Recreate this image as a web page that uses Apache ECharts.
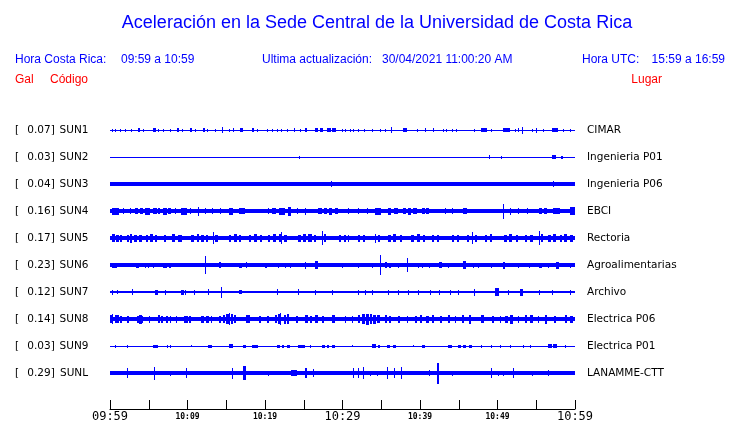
<!DOCTYPE html>
<html><head><meta charset="utf-8">
<script src="https://cdn.jsdelivr.net/npm/echarts@6/dist/echarts.min.js"></script>
<style>html,body{margin:0;padding:0;background:#fff}#c{width:740px;height:423px}</style>
</head><body><div id="c"></div>
<script>
// ---- data ----
const codes = ['SUN1','SUN2','SUN3','SUN4','SUN5','SUN6','SUN7','SUN8','SUN9','SUNL'];
const peaks = ['0.07','0.03','0.04','0.16','0.17','0.23','0.12','0.14','0.03','0.29'];
const places = ['CIMAR','Ingenieria P01','Ingenieria P06','EBCI','Rectoria','Agroalimentarias','Archivo','Electrica P06','Electrica P01','LANAMME-CTT'];
const tickLabels = ['09:59','','10:09','','10:19','','10:29','','10:39','','10:49','','10:59'];
const majorLabels = ['09:59','10:29','10:59'];
// background noise half-amplitude of each trace (relative units)
const baseAmp = [0.5, 0.5, 1.8, 2.0, 2.4, 1.7, 1.4, 2.4, 0.5, 1.8];
// events: [minute after 09:59, half-amplitude, duration in minutes]
const sun1 = [[0.2,1.5],[0.65,1.5],[1.3,1.5],[1.9,1.5],[2.7,1.5],[3.6,1.8,0.3],[4.2,1.5],[5.6,1.8,0.3],[6.2,1.5],[6.9,1.5],[7.7,1.5],[8.6,1.8,0.3],[9.3,1.5],[10.3,1.8,0.3],[11.0,1.5],[12.0,1.8,0.3],[12.5,1.5],[13.5,1.5],[14.4,3],[15.4,1.5],[15.9,1.8],[16.8,1.8,0.3],[18.3,1.8,0.3],[19.0,1.5],[20.2,1.5],[20.9,1.5],[21.6,1.5],[22.1,1.5],[22.8,1.5],[23.7,2],[24.5,1.5],[25.1,1.8,0.3],[26.4,1.8,0.5],[27.1,1.8,0.4],[28.0,1.8,0.5],[28.7,1.8,0.4],[29.9,1.5],[30.3,1.5],[31.0,1.5],[31.4,1.5],[32.0,1.5],[32.8,1.5],[33.8,1.5],[34.8,1.5],[35.5,1.5],[36.2,3],[37.8,1.8,0.5],[39.6,1.5],[40.6,1.8],[41.7,1.8],[43.0,1.5],[43.4,1.5],[44.1,1.5],[44.6,1.5],[47.0,1.5],[47.9,1.8,0.7],[49.2,1.5],[50.7,1.8,0.9],[52.2,1.5],[52.7,1.8],[53.2,3.5],[54.4,1.5],[55.0,2.5],[55.9,1.5],[57.0,1.8,0.8],[58.4,1.5],[59.3,1.5]];
const sun2 = [[24.4,1.5],[48.9,2],[50.4,1.5],[57.0,2,0.6],[58.2,1.5,0.3]];
const sun3 = [[13.8,2.2,1.2],[28.5,3],[29.5,2.2],[36.6,2.3],[57.2,3]];
const sun4 = [[0.2,3.5,0.9],[1.7,3],[2.6,3],[3.2,3,0.4],[3.9,3,0.3],[4.5,3.5,0.7],[5.6,3,0.4],[6.2,3,0.3],[6.9,3.5,0.4],[7.5,3,0.4],[8.4,3],[9.2,3.5,0.7],[10.3,3],[11.4,4.5],[12.3,3],[13.1,3],[14.2,3],[15.3,3.5,0.6],[16.6,3,0.8],[20.4,3],[20.9,3,0.5],[21.8,3.5,0.8],[23.0,4.5,0.4],[24.1,3],[25.2,3.5],[26.9,3,0.5],[27.6,3,0.4],[28.3,3.5,0.4],[29.0,3,0.4],[30.7,3],[32.0,3],[33.1,3],[34.2,3.5,0.8],[35.9,3.5,0.4],[36.6,3,0.5],[37.8,3,0.4],[38.4,3.5,0.4],[39.1,3,0.5],[40.2,3,0.4],[40.8,3,0.3],[43.2,3],[44.1,3],[45.6,3,0.4],[50.7,7.5],[51.6,3.5],[52.7,3],[53.8,3],[55.3,3,0.5],[56.0,3,0.4],[57.2,3,0.9],[59.3,4,0.7]];
const sun5 = [[0.2,4,0.4],[0.8,3.5,0.3],[1.3,3.5,0.2],[2.2,3.5,0.3],[2.6,4.5,0.3],[3.1,3.5,0.4],[3.8,3.5,0.3],[4.6,3.5,0.3],[5.1,4,0.4],[5.8,3.5,0.3],[7.0,3.5,0.2],[8.0,4,0.4],[8.8,3.5,0.5],[10.5,3.5,0.4],[11.2,4,0.3],[11.8,3.5,0.3],[12.4,3.5,0.3],[13.3,6.3],[13.6,3.5,0.3],[15.3,3.5,0.3],[16.0,4,0.4],[16.6,3.5,0.3],[17.9,3.5,0.3],[18.6,4,0.4],[19.4,3.5,0.2],[20.4,3.5,0.3],[21.0,4,0.4],[21.8,4,0.3],[22.1,6],[22.5,3.5,0.3],[24.3,3.5,0.3],[24.9,4,0.4],[25.6,4,0.4],[26.3,3.5,0.3],[27.3,7],[27.6,4,0.3],[29.5,3.5,0.3],[30.2,3.5,0.3],[30.7,3.5,0.2],[32.0,3.5,0.3],[32.6,3.5,0.3],[34.2,4.5],[34.6,3.5,0.3],[35.9,3.5,0.3],[36.5,4,0.4],[37.4,3.5,0.3],[38.9,3.5,0.3],[39.6,4,0.4],[40.4,3.5,0.2],[41.5,3.5,0.3],[42.2,3.5,0.2],[44.1,3.5,0.3],[44.8,3.5,0.2],[46.1,3.5,0.2],[46.7,6],[47.1,3.5,0.2],[48.4,3.5,0.3],[49.0,4,0.3],[50.9,3.5,0.3],[51.5,4,0.4],[52.4,3.5,0.3],[53.5,3.5,0.3],[54.2,3.5,0.4],[55.3,7],[55.6,4,0.3],[56.5,3.5,0.4],[57.2,4,0.4],[58.0,3.5,0.3],[58.6,4,0.4],[59.3,3.5,0.5]];
const sun6 = [[0.2,2.5,0.7],[3.4,2.5,0.3],[4.5,2.5],[4.9,2.5],[5.6,2.5],[6.9,2.5,0.4],[7.6,2.5,0.3],[12.2,8.7],[14.0,2.8,0.3],[16.6,2.5,0.4],[17.6,3],[20.0,2.5,0.3],[21.7,2.5],[22.6,2.5],[23.2,2.5],[25.2,3.5],[26.5,4,0.3],[29.9,2.5],[32.0,2.5],[33.8,2.5],[34.9,10],[35.5,3,0.3],[36.0,2.5,0.3],[37.2,2.5],[38.3,7],[39.8,2.5],[40.2,2.5],[41.1,2.5],[42.4,3,0.4],[43.6,2.5],[45.6,4,0.3],[46.9,2.5],[47.5,2.5],[49.2,2.5],[50.7,3.5,0.3],[52.7,2.5],[54.0,2.5],[55.3,2.5,0.4],[56.5,2.5],[57.6,3.5,0.3],[59.3,2.5]];
const sun7 = [[0.2,2.5],[0.9,2.2],[2.8,3],[5.8,2.5,0.4],[7.1,2.5],[9.2,2.5,0.3],[9.7,2.5],[10.8,2.5],[12.7,3],[14.3,5.5],[16.6,2.2,0.4],[21.5,3],[24.2,3],[26.4,2.5],[28.6,2.5],[32.0,2.5],[32.9,2.5],[33.8,2.5],[35.9,2.5],[37.2,2.5],[38.5,2.5],[39.8,2.5],[41.3,2.5],[42.4,2.5],[43.9,2.5],[44.9,2.5],[47.0,3.5],[49.7,4,0.5],[51.4,2.5],[52.9,3.5,0.4],[55.3,2.5],[57.0,2.5],[59.3,2.5]];
const sun8 = [[0.0,4,0.4],[0.2,5],[0.6,4,0.5],[1.3,3.5,0.2],[2.2,3.5,0.3],[3.5,3.5,0.2],[3.8,4.5,0.3],[4.1,3.5,0.2],[5.0,3.5,0.2],[6.2,4,0.2],[6.6,3.5,0.3],[7.2,3.5,0.3],[7.7,3.5,0.2],[8.5,3.5,0.2],[9.6,3.5,0.4],[10.2,3.5,0.3],[11.8,3.5,0.3],[12.4,3.5,0.4],[13.0,3.5,0.2],[14.0,3.5,0.3],[14.6,4,0.3],[15.0,5,0.3],[15.4,6],[15.6,5,0.3],[16.0,4,0.3],[17.6,4,0.4],[19.2,3.5,0.3],[20.3,3.5,0.2],[21.3,4,0.3],[21.7,5,0.4],[21.9,6],[22.4,4.5,0.3],[22.9,5,0.2],[24.0,3.5,0.3],[25.2,4,0.4],[25.8,3.5,0.3],[26.5,4,0.3],[27.4,3.5,0.2],[28.6,4,0.4],[30.3,3.5,0.2],[31.2,3.5,0.2],[32.0,4,0.3],[32.5,5,0.4],[33.0,5.5,0.4],[33.5,5,0.3],[33.9,4.5,0.4],[34.5,4,0.3],[35.5,4,0.3],[36.0,3.5,0.3],[37.2,3.5,0.2],[38.3,3.5,0.2],[39.3,3.5,0.3],[40.0,4,0.3],[40.8,3.5,0.3],[41.5,4,0.3],[42.6,3.5,0.2],[43.6,4,0.3],[44.5,3.5,0.2],[45.4,4,0.3],[46.3,4.5,0.3],[47.9,4,0.4],[49.3,3.5,0.2],[50.3,3.5,0.2],[51.0,3.5,0.3],[51.6,4.5,0.4],[52.6,3.5,0.2],[53.5,4,0.3],[54.2,4,0.4],[55.2,3.5,0.2],[56.1,4.5,0.3],[57.3,3.5,0.2],[58.7,4,0.3],[59.4,3.5,0.3]];
const sun9 = [[0.65,1.5],[2.2,1.5],[5.6,1.5,0.6],[7.3,1.5],[7.7,1.5],[10.5,1.2],[12.7,1.5,0.4],[15.3,1.8,0.6],[17.2,1.5,0.4],[18.3,1.5,0.8],[21.5,1.5,0.4],[22.2,1.5,0.3],[22.8,1.5,0.4],[24.3,1.5,0.9],[25.8,1.5],[27.3,1.5,0.4],[28.0,1.5,0.3],[28.6,1.5,0.4],[31.2,1.2],[33.8,1.8,0.5],[34.6,1.5,0.3],[35.7,1.5,0.4],[36.5,1.5,0.4],[39.1,1.2],[40.2,1.5,0.4],[43.6,1.5,0.5],[44.9,1.5,0.4],[45.6,1.5,0.3],[46.3,1.5,0.4],[47.9,1.5],[49.2,1.5],[50.3,1.5],[51.6,1.5],[53.3,1.5],[54.2,1.5],[56.5,1.8,0.5],[57.2,1.8,0.5],[58.7,1.5]];
const sunL = [[2.15,5],[5.7,6.5],[7.7,2.5],[9.8,5],[14.6,2.2],[15.7,5.5],[17.2,7,0.3],[20.4,2.5],[23.4,3,0.7],[25.2,5,0.2],[26.2,4],[30.3,2.2],[31.3,5],[32.0,5],[32.7,6],[33.5,2.5],[34.4,2.5],[35.7,6,0.2],[36.6,5],[37.6,6],[39.3,2.2],[41.1,3],[42.2,10.5,0.2],[44.1,2.5],[47.1,2.2],[49.1,5],[50.1,2.5],[50.7,2.5],[52.0,5],[54.4,2.5],[56.5,3],[58.9,2.2]];
const traces = [sun1, sun2, sun3, sun4, sun5, sun6, sun7, sun8, sun9, sunL];

// ---- build ----
const AMP = 1 / 27; // relative amplitude units per trace spacing
const BLUE = '#0000ff';
const data = [];
traces.forEach((ev, i) => {
  data.push([i, 0, baseAmp[i], 60]);
  ev.forEach(e => data.push([i, e[0], e[1], e[2] || 0]));
});

function renderItem(params, api) {
  const i = api.value(0), t = api.value(1), a = api.value(2), d = api.value(3);
  const p0 = api.coord([t, i]);
  const p1 = api.coord([t + d, i]);
  const half = Math.abs(api.size([0, a * AMP])[1]);
  const top = Math.round(p0[1] - half);
  const h = Math.max(1, Math.round(p0[1] + half) - top);
  const x = Math.round(p0[0]);
  const w = Math.max(1, Math.round(p1[0]) - x);
  return { type: 'rect', shape: { x: x, y: top, width: w, height: h }, style: { fill: BLUE } };
}

const chart = echarts.init(document.getElementById('c'), null, { renderer: 'canvas' });
const hdrFont = '12px "Liberation Sans", Arial, sans-serif';
function txt(x, y, text, color, font, align) {
  return { type: 'text', x: x, y: y, silent: true,
    style: { text: text, fill: color, font: font, align: align || 'left', verticalAlign: 'middle',
             textAlign: align || 'left', textVerticalAlign: 'middle' } };
}
chart.setOption({
  animation: false,
  backgroundColor: '#fff',
  graphic: [
    txt(377, 23, 'Aceleración en la Sede Central de la Universidad de Costa Rica', BLUE, '18px "Liberation Sans", Arial, sans-serif', 'center'),
    txt(15, 60, 'Hora Costa Rica:', BLUE, hdrFont),
    txt(121, 60, '09:59 a 10:59', BLUE, hdrFont),
    txt(262, 60, 'Ultima actualización:', BLUE, hdrFont),
    txt(382, 60, '30/04/2021 11:00:20 AM', BLUE, hdrFont),
    txt(582, 60, 'Hora UTC:', BLUE, hdrFont),
    txt(725, 60, '15:59 a 16:59', BLUE, hdrFont, 'right'),
    txt(15, 80, 'Gal', '#ff0000', hdrFont),
    txt(50, 80, 'Código', '#ff0000', hdrFont),
    txt(662, 80, 'Lugar', '#ff0000', hdrFont, 'right')
  ],
  grid: [
    { left: 110, right: 165, top: 103, height: 297 },
    { left: 110, right: 165, top: 400, height: 9 }
  ],
  xAxis: [
    { gridIndex: 0, type: 'value', min: 0, max: 60, show: false },
    { gridIndex: 1, type: 'value', min: 0, max: 60, interval: 5,
      axisLine: { show: true, lineStyle: { color: '#000', width: 1 } },
      axisTick: { show: true, inside: true, length: 9, lineStyle: { color: '#000', width: 1 } },
      splitLine: { show: false },
      axisLabel: {
        margin: 1, showMinLabel: true, showMaxLabel: true, hideOverlap: false, color: '#000',
        formatter: v => {
          const s = tickLabels[Math.round(v / 5)];
          if (!s) return '';
          return majorLabels.includes(s) ? '{a|' + s + '}' : '{b|' + s + '}';
        },
        rich: {
          a: { fontFamily: '"DejaVu Sans Mono", monospace', fontSize: 12, lineHeight: 14, color: '#000' },
          b: { fontFamily: '"DejaVu Sans Mono", monospace', fontSize: 8, fontWeight: 'bold', lineHeight: 14, color: '#000' }
        }
      } }
  ],
  yAxis: [
    { gridIndex: 0, type: 'value', inverse: true, min: -1, max: 10, interval: 1, position: 'left',
      axisLine: { show: false }, axisTick: { show: false }, splitLine: { show: false },
      axisLabel: {
        align: 'left', margin: 95, color: '#000', showMinLabel: true, showMaxLabel: true,
        formatter: v => (v >= 0 && v <= 9) ? '{b|[}{v|' + peaks[v] + ']}{c|' + codes[v] + '}' : '',
        rich: {
          b: { width: 12, align: 'left', fontFamily: '"DejaVu Sans", sans-serif', fontSize: 10.5, color: '#000' },
          v: { width: 28, align: 'right', fontFamily: '"DejaVu Sans", sans-serif', fontSize: 10.5, color: '#000' },
          c: { width: 32, align: 'left', padding: [0, 0, 0, 3], fontFamily: '"DejaVu Sans", sans-serif', fontSize: 10.5, color: '#000' }
        }
      } },
    { gridIndex: 0, type: 'value', inverse: true, min: -1, max: 10, interval: 1, position: 'right',
      axisLine: { show: false }, axisTick: { show: false }, splitLine: { show: false },
      axisLabel: {
        align: 'left', margin: 12, color: '#000', fontFamily: '"DejaVu Sans", sans-serif', fontSize: 10.5,
        formatter: v => (v >= 0 && v <= 9) ? places[v] : ''
      } },
    { gridIndex: 1, type: 'value', show: false, min: 0, max: 1 }
  ],
  series: [{
    type: 'custom', xAxisIndex: 0, yAxisIndex: 0, renderItem: renderItem,
    data: data, encode: { x: 1, y: 0 }, clip: false, silent: true
  }]
});
</script></body></html>
